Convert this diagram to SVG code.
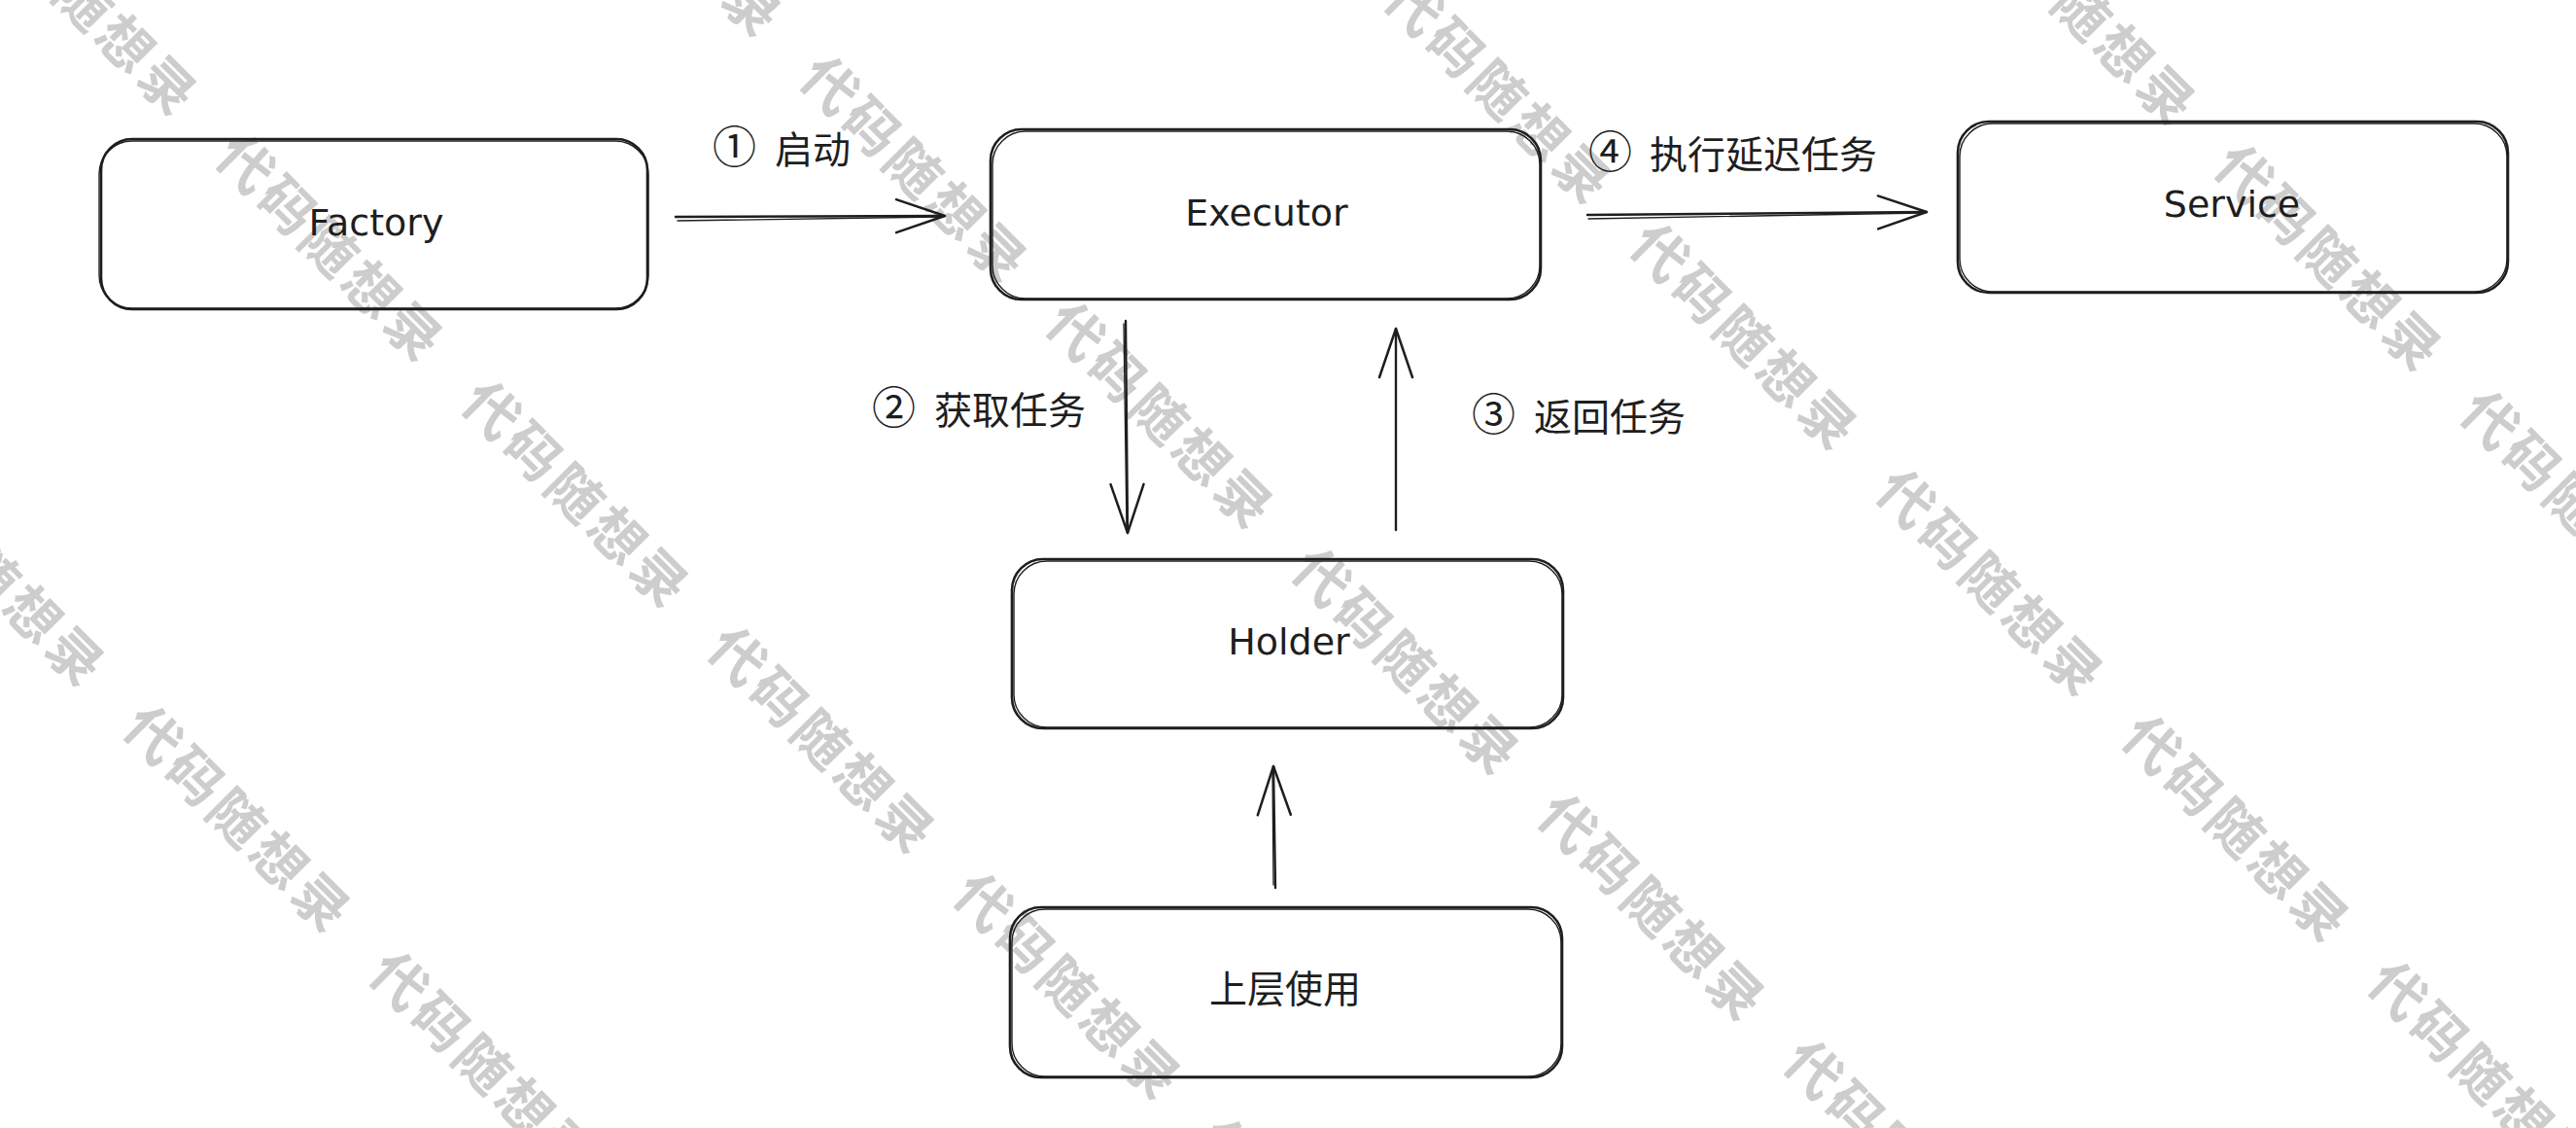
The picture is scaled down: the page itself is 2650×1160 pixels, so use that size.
<svg xmlns="http://www.w3.org/2000/svg" width="2650" height="1160" viewBox="0 0 2650 1160">
<style>
.wm{font-family:"Noto Sans CJK SC","Noto Sans",sans-serif;font-size:56px;font-weight:bold;letter-spacing:5px;fill:#cdcdcd}
.box{fill:none;stroke:#1e1e1e;stroke-width:2.6;stroke-linecap:round;stroke-linejoin:round}
.box2{fill:none;stroke:#1e1e1e;stroke-width:1.4;stroke-linecap:round;stroke-linejoin:round}
.en{font-family:"DejaVu Sans","Liberation Sans",sans-serif;font-size:38px;fill:#1e1e1e;text-anchor:middle}
.zh{font-family:"Noto Sans CJK SC","Noto Sans",sans-serif;font-size:39px;fill:#1e1e1e}
.num{font-size:45px}
.ln{fill:none;stroke:#1e1e1e;stroke-width:2.4;stroke-linecap:round}
.ln2{fill:none;stroke:#1e1e1e;stroke-width:1.3;stroke-linecap:round}
</style>
<defs>
<marker id="ah" viewBox="0 0 60 40" markerWidth="60" markerHeight="40" refX="52" refY="20" orient="auto" markerUnits="userSpaceOnUse">
<path d="M2,3 L52,20 L2,37" fill="none" stroke="#1e1e1e" stroke-width="2.5" stroke-linecap="round" stroke-linejoin="round"/>
</marker>
</defs>
<rect width="2650" height="1160" fill="#ffffff"/>
<g id="watermark">
<text class="wm" transform="translate(-130,497) rotate(45)">代码随想录</text>
<text class="wm" transform="translate(123,750) rotate(45)">代码随想录</text>
<text class="wm" transform="translate(376,1003) rotate(45)">代码随想录</text>
<text class="wm" transform="translate(-35,-90) rotate(45)">代码随想录</text>
<text class="wm" transform="translate(218,163) rotate(45)">代码随想录</text>
<text class="wm" transform="translate(471,416) rotate(45)">代码随想录</text>
<text class="wm" transform="translate(724,669) rotate(45)">代码随想录</text>
<text class="wm" transform="translate(977,922) rotate(45)">代码随想录</text>
<text class="wm" transform="translate(1230,1175) rotate(45)">代码随想录</text>
<text class="wm" transform="translate(566,-171) rotate(45)">代码随想录</text>
<text class="wm" transform="translate(819,82) rotate(45)">代码随想录</text>
<text class="wm" transform="translate(1072,335) rotate(45)">代码随想录</text>
<text class="wm" transform="translate(1325,588) rotate(45)">代码随想录</text>
<text class="wm" transform="translate(1578,841) rotate(45)">代码随想录</text>
<text class="wm" transform="translate(1831,1094) rotate(45)">代码随想录</text>
<text class="wm" transform="translate(1420,1) rotate(45)">代码随想录</text>
<text class="wm" transform="translate(1673,254) rotate(45)">代码随想录</text>
<text class="wm" transform="translate(1926,507) rotate(45)">代码随想录</text>
<text class="wm" transform="translate(2179,760) rotate(45)">代码随想录</text>
<text class="wm" transform="translate(2432,1013) rotate(45)">代码随想录</text>
<text class="wm" transform="translate(2021,-80) rotate(45)">代码随想录</text>
<text class="wm" transform="translate(2274,173) rotate(45)">代码随想录</text>
<text class="wm" transform="translate(2527,426) rotate(45)">代码随想录</text>
</g>
<g id="connectors">
<path class="ln" d="M695,223 L972,222" marker-end="url(#ah)"/>
<path class="ln2" d="M697,227 L968,223"/>
<path class="ln" d="M1633,221 L1982,218" marker-end="url(#ah)"/>
<path class="ln2" d="M1634,225 L1978,219"/>
<path class="ln" d="M1158,330 L1160,548" marker-end="url(#ah)"/>
<path class="ln2" d="M1156,333 L1159,544"/>
<path class="ln" d="M1436,545 L1436,338" marker-end="url(#ah)"/>
<path class="ln" d="M1312,913 L1310,788" marker-end="url(#ah)"/>
<path class="ln2" d="M1310,910 L1309,792"/>
</g>
<g id="label-start"><text class="zh" x="733" y="168"><tspan class="num">①</tspan> <tspan x="797">启动</tspan></text></g>
<g id="label-execute"><text class="zh" x="1634" y="173"><tspan class="num">④</tspan> <tspan x="1697">执行延迟任务</tspan></text></g>
<g id="label-fetch"><text class="zh" x="897" y="436"><tspan class="num">②</tspan> <tspan x="961">获取任务</tspan></text></g>
<g id="label-return"><text class="zh" x="1514" y="443"><tspan class="num">③</tspan> <tspan x="1578">返回任务</tspan></text></g>
<g id="node-factory">
<rect class="box" x="104" y="143" width="562" height="175" rx="32"/>
<rect class="box2" x="102" y="145" width="565" height="172" rx="34"/>
<text class="en" x="387" y="242">Factory</text>
</g>
<g id="node-executor">
<rect class="box" x="1019" y="133" width="566" height="175" rx="32"/>
<rect class="box2" x="1021" y="135" width="563" height="172" rx="34"/>
<text class="en" x="1303" y="232">Executor</text>
</g>
<g id="node-service">
<rect class="box" x="2014" y="125" width="566" height="176" rx="32"/>
<rect class="box2" x="2016" y="127" width="563" height="173" rx="34"/>
<text class="en" x="2296" y="223">Service</text>
</g>
<g id="node-holder">
<rect class="box" x="1041" y="575" width="567" height="174" rx="32"/>
<rect class="box2" x="1043" y="577" width="564" height="171" rx="34"/>
<text class="en" x="1326" y="673">Holder</text>
</g>
<g id="node-upper">
<rect class="box" x="1039" y="933" width="568" height="175" rx="32"/>
<rect class="box2" x="1041" y="935" width="565" height="172" rx="34"/>
<text class="zh" x="1322" y="1031" text-anchor="middle">上层使用</text>
</g>
</svg>
